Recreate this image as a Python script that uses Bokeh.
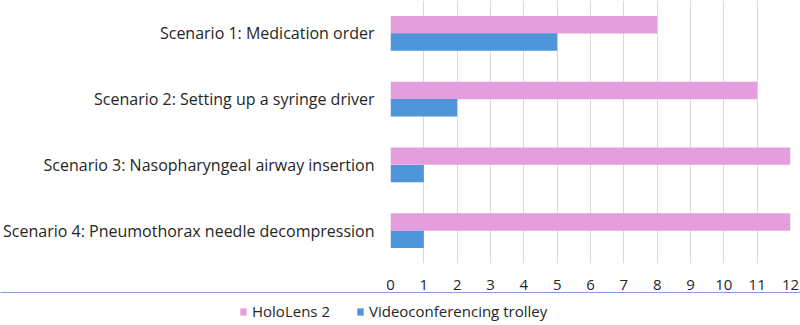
from bokeh.plotting import figure
from bokeh.layouts import column
from bokeh.models import ColumnDataSource, Range1d, Legend, LegendItem, FixedTicker
from bokeh.transform import dodge
from bokeh.embed import file_html
from bokeh.resources import INLINE

scenarios = [
    "Scenario 1: Medication order",
    "Scenario 2: Setting up a syringe driver",
    "Scenario 3: Nasopharyngeal airway insertion",
    "Scenario 4: Pneumothorax needle decompression",
]
hololens = [8, 11, 12, 12]
trolley = [5, 2, 1, 1]
series_names = ["HoloLens 2", "Videoconferencing trolley"]
x_ticks = list(range(0, 13))

FONT = "Open Sans"
PINK = "#E59EDD"
BLUE = "#4E95D9"
TXT = "#262626"

src = ColumnDataSource(dict(cat=scenarios, holo=hololens, trol=trolley))

p = figure(
    frame_width=400, frame_height=263,
    y_range=list(reversed(scenarios)),
    x_range=Range1d(0, 12),
    output_backend="svg", toolbar_location=None,
    min_border_left=0, min_border_right=9, min_border_top=0, min_border_bottom=0,
)
p.outline_line_color = None
p.background_fill_color = "white"
p.border_fill_color = "white"

p.hbar(y=dodge("cat", 0.1325, range=p.y_range), right="holo", left=0, height=0.265,
       source=src, color=PINK, line_color=None)
p.hbar(y=dodge("cat", -0.1325, range=p.y_range), right="trol", left=0, height=0.265,
       source=src, color=BLUE, line_color=None)

p.xaxis.ticker = FixedTicker(ticks=x_ticks)
p.xaxis.axis_line_color = None
p.xaxis.major_tick_line_color = None
p.xaxis.minor_tick_line_color = None
p.xaxis.major_tick_out = 0
p.xaxis.minor_tick_out = 0
p.xaxis.major_label_text_font = FONT
p.xaxis.major_label_text_font_size = "15px"
p.xaxis.major_label_text_color = TXT
p.xaxis.major_label_standoff = 16

p.yaxis.axis_line_color = None
p.yaxis.major_tick_line_color = None
p.yaxis.minor_tick_line_color = None
p.yaxis.major_tick_out = 0
p.yaxis.minor_tick_out = 0
p.yaxis.major_label_text_font = FONT
p.yaxis.major_label_text_font_size = "16px"
p.yaxis.major_label_text_color = TXT
p.yaxis.major_label_standoff = 16

p.ygrid.grid_line_color = None
p.xgrid.grid_line_color = "#D9D9D9"

# legend strip below the chart (its series glyphs sit outside its visible range)
lg = figure(
    width=800, height=29,
    x_range=Range1d(0, 1), y_range=Range1d(-1, 0),
    output_backend="svg", toolbar_location=None,
    x_axis_location=None, y_axis_location=None,
    min_border=0,
)
lg.frame_align = False
lg.outline_line_color = None
lg.grid.grid_line_color = None
lsrc = ColumnDataSource(dict(holo=hololens, trol=trolley))
g1 = lg.hbar(y="holo", right="holo", left=0, height=0.5, source=lsrc, color=PINK, line_color=None)
g2 = lg.hbar(y="trol", right="trol", left=0, height=0.5, source=lsrc, color=BLUE, line_color=None)

legend = Legend(
    items=[LegendItem(label=series_names[0], renderers=[g1]),
           LegendItem(label=series_names[1], renderers=[g2])],
    orientation="horizontal", location=(239, 0),
    label_text_font=FONT, label_text_font_size="15px", label_text_color=TXT,
    label_standoff=5, label_height=16,
    glyph_width=8, glyph_height=9, spacing=26, padding=1, margin=0,
    border_line_color=None, background_fill_alpha=0,
)
lg.add_layout(legend, "center")

layout = column(p, lg, spacing=0)
open("out.html", "w").write(file_html(layout, INLINE))
